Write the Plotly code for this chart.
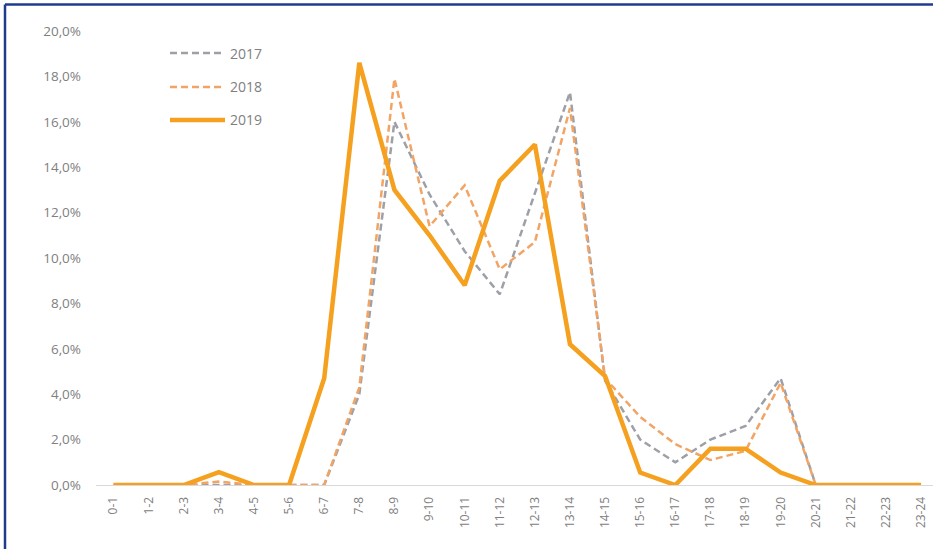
import plotly.graph_objects as go

hours = ["0-1", "1-2", "2-3", "3-4", "4-5", "5-6", "6-7", "7-8", "8-9", "9-10", "10-11", "11-12",
         "12-13", "13-14", "14-15", "15-16", "16-17", "17-18", "18-19", "19-20", "20-21", "21-22",
         "22-23", "23-24"]

y2017 = [0, 0, 0, 0, 0, 0, 0, 4.0, 16.0, 12.8, 10.3, 8.4, 12.9, 17.3, 4.6, 2.0, 1.0, 2.0, 2.6, 4.7, 0, 0, 0, 0]
y2018 = [0, 0, 0, 0.15, 0, 0, 0, 4.3, 17.9, 11.4, 13.2, 9.5, 10.7, 16.6, 4.7, 3.0, 1.8, 1.1, 1.5, 4.5, 0, 0, 0, 0]
y2019 = [0, 0, 0, 0.57, 0, 0, 4.7, 18.6, 13.0, 11.0, 8.8, 13.4, 15.0, 6.2, 4.8, 0.55, 0, 1.6, 1.6, 0.55, 0, 0, 0, 0]

series_names = ["2017", "2018", "2019"]

ytick_vals = [0, 2, 4, 6, 8, 10, 12, 14, 16, 18, 20]
ytick_text = ["0,0%", "2,0%", "4,0%", "6,0%", "8,0%", "10,0%", "12,0%", "14,0%", "16,0%", "18,0%", "20,0%"]

W, H = 933, 549
ML, MR, MT, MB = 96, 0, 31, 64
pw = W - ML - MR
ph = H - MT - MB


def px_x(px):
    return (px - ML) / pw


def px_y(py):
    return (H - MB - py) / ph


styles = [
    dict(color="#9EA0A8", width=2.5, dash="7px,4px"),
    dict(color="#F2A465", width=2.5, dash="7px,4px"),
    dict(color="#F5A01E", width=4.5),
]

fig = go.Figure()
for name, ys, st in zip(series_names, [y2017, y2018, y2019], styles):
    fig.add_trace(go.Scatter(x=hours, y=ys, name=name, mode="lines", line=st, showlegend=False))

# manual legend (longer line samples as in reference)
legend_rows = [53, 87, 120]
for name, st, ry in zip(series_names, styles, legend_rows):
    fig.add_shape(type="line", xref="paper", yref="paper",
                  x0=px_x(170), x1=px_x(225), y0=px_y(ry), y1=px_y(ry), line=st)
    fig.add_annotation(xref="paper", yref="paper", x=px_x(228), y=px_y(ry), text=name,
                       showarrow=False, xanchor="left", yanchor="middle",
                       font=dict(size=14, color="#808080"))

# frame lines (top and left) of the enclosing box
fig.add_shape(type="line", xref="paper", yref="paper",
              x0=px_x(5), x1=px_x(W + 10), y0=px_y(4.5), y1=px_y(4.5),
              line=dict(color="#1F3C8C", width=2.5))
fig.add_shape(type="line", xref="paper", yref="paper",
              x0=px_x(5), x1=px_x(5), y0=px_y(4.5), y1=px_y(H + 10),
              line=dict(color="#1F3C8C", width=2.5))

fig.update_layout(
    width=W, height=H,
    margin=dict(l=ML, r=MR, t=MT, b=MB),
    paper_bgcolor="white", plot_bgcolor="white",
    font=dict(family="Open Sans, sans-serif", color="#808080", size=12),
    showlegend=False,
    xaxis=dict(type="category", range=[-0.5, 23.34], showgrid=False, showline=True,
               linecolor="#D9D9D9", linewidth=1, tickangle=-90, ticks="",
               ticklabelstandoff=6, tickfont=dict(size=12, color="#808080")),
    yaxis=dict(range=[0, 20], tickvals=ytick_vals, ticktext=ytick_text, showgrid=False,
               zeroline=False, showline=False, ticks="", ticklabelstandoff=14,
               tickfont=dict(size=13.5, color="#808080")),
)

fig.write_html("out.html", config={"displayModeBar": False},
               post_script="document.body.style.margin='0';document.body.style.overflow='hidden';")
